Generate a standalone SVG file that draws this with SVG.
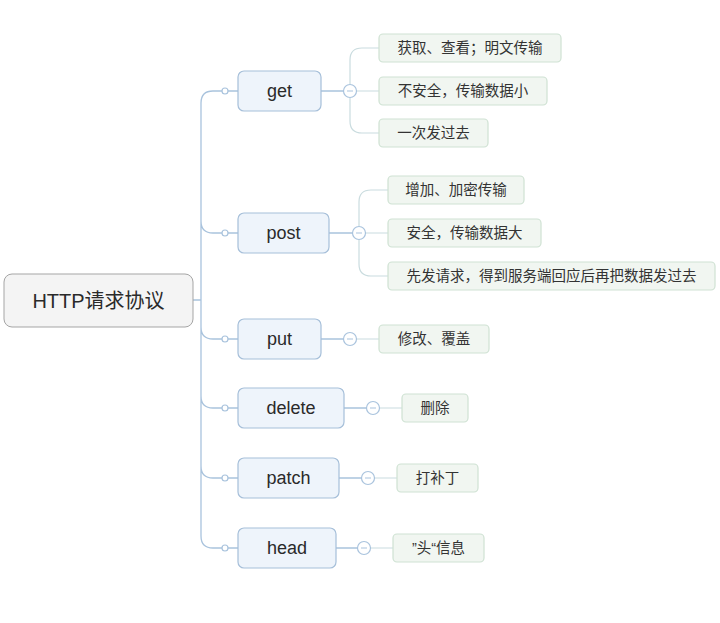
<svg xmlns="http://www.w3.org/2000/svg" width="720" height="623" viewBox="0 0 720 623">
<style>
text{font-family:"Liberation Sans","Noto Sans CJK SC",sans-serif;fill:#2a2a2a;text-anchor:middle;dominant-baseline:central}
.root rect{fill:#f4f4f4;stroke:#a5a5a5;stroke-width:1}
.root text{font-size:20px}
.main rect{fill:#eef4fb;stroke:#a6bfd9;stroke-width:1.2}
.main text{font-size:18px}
.leaf rect{fill:#f1f6f1;stroke:#cfe2d3;stroke-width:1.2}
.leaf text{font-size:14.5px;fill:#333}
.trunk{fill:none;stroke:#a9c3dd;stroke-width:1.3}
.br{fill:none;stroke:#cadcdf;stroke-width:1.2}
.dot{fill:#fff;stroke:#a9c3dd;stroke-width:1.2}
.col{fill:#fff;stroke:#a9c3dd;stroke-width:1.2}
.minus{stroke:#a9c3dd;stroke-width:1}
</style>
<rect width="720" height="623" fill="#fff"/>
<g id="connectors">
  <path class="trunk" d="M193,300 H201 M201,300 V103 Q201,91 213,91 H222 M201,300 V221 Q201,233 213,233 H222 M201,300 V327 Q201,339 213,339 H222 M201,300 V396 Q201,408 213,408 H222 M201,300 V466 Q201,478 213,478 H222 M201,300 V536 Q201,548 213,548 H222"/>
  <path class="trunk" d="M228,91 H238 M228,233 H238 M228,339 H238 M228,408 H238 M228,478 H238 M228,548 H238"/>
  <path class="trunk" d="M321,91 H343.5 M329,233 H352.5 M321,339 H343.5 M344,408 H366.5 M339,478 H361.5 M336,548 H357.5"/>
  <circle class="dot" cx="225" cy="91" r="3"/>
  <circle class="dot" cx="225" cy="233" r="3"/>
  <circle class="dot" cx="225" cy="339" r="3"/>
  <circle class="dot" cx="225" cy="408" r="3"/>
  <circle class="dot" cx="225" cy="478" r="3"/>
  <circle class="dot" cx="225" cy="548" r="3"/>
  <path class="br" d="M350,84.5 V60 Q350,48 362,48 H379 M356.5,91 H379 M350,97.5 V121 Q350,133 362,133 H379"/>
  <path class="br" d="M359,226.5 V202 Q359,190 371,190 H388 M365.5,233 H388 M359,239.5 V264 Q359,276 371,276 H388"/>
  <path class="br" d="M356.5,339 H379 M379.5,408 H402 M374.5,478 H397 M370.5,548 H393"/>
  <g class="col-g">
    <circle class="col" cx="350" cy="91" r="6.5"/><path class="minus" d="M347,91 H353"/>
    <circle class="col" cx="359" cy="233" r="6.5"/><path class="minus" d="M356,233 H362"/>
    <circle class="col" cx="350" cy="339" r="6.5"/><path class="minus" d="M347,339 H353"/>
    <circle class="col" cx="373" cy="408" r="6.5"/><path class="minus" d="M370,408 H376"/>
    <circle class="col" cx="368" cy="478" r="6.5"/><path class="minus" d="M365,478 H371"/>
    <circle class="col" cx="364" cy="548" r="6.5"/><path class="minus" d="M361,548 H367"/>
  </g>
</g>
<g id="root" class="root"><rect x="4" y="274" width="189" height="53" rx="8"/><text x="98.5" y="300.5">HTTP请求协议</text></g>
<g id="get" class="main"><rect x="238" y="71" width="83" height="40" rx="6"/><text x="279.5" y="91">get</text></g>
<g id="post" class="main"><rect x="238" y="213" width="91" height="40" rx="6"/><text x="283.5" y="233">post</text></g>
<g id="put" class="main"><rect x="238" y="319" width="83" height="40" rx="6"/><text x="279.5" y="339">put</text></g>
<g id="delete" class="main"><rect x="238" y="388" width="106" height="40" rx="6"/><text x="291" y="408">delete</text></g>
<g id="patch" class="main"><rect x="238" y="458" width="101" height="40" rx="6"/><text x="288.5" y="478">patch</text></g>
<g id="head" class="main"><rect x="238" y="528" width="98" height="40" rx="6"/><text x="287" y="548">head</text></g>
<g id="get-1" class="leaf"><rect x="379" y="34" width="182" height="28" rx="4"/><text x="470" y="48">获取、查看；明文传输</text></g>
<g id="get-2" class="leaf"><rect x="379" y="77" width="168" height="28" rx="4"/><text x="463" y="91">不安全，传输数据小</text></g>
<g id="get-3" class="leaf"><rect x="379" y="119" width="109" height="28" rx="4"/><text x="433.5" y="133">一次发过去</text></g>
<g id="post-1" class="leaf"><rect x="388" y="176" width="136" height="28" rx="4"/><text x="456" y="190">增加、加密传输</text></g>
<g id="post-2" class="leaf"><rect x="388" y="219" width="153" height="28" rx="4"/><text x="464.5" y="233">安全，传输数据大</text></g>
<g id="post-3" class="leaf"><rect x="388" y="262" width="327" height="28" rx="4"/><text x="551.5" y="276">先发请求，得到服务端回应后再把数据发过去</text></g>
<g id="put-1" class="leaf"><rect x="379" y="325" width="110" height="28" rx="4"/><text x="434" y="339">修改、覆盖</text></g>
<g id="delete-1" class="leaf"><rect x="402" y="394" width="66" height="28" rx="4"/><text x="435" y="408">删除</text></g>
<g id="patch-1" class="leaf"><rect x="397" y="464" width="81" height="28" rx="4"/><text x="437.5" y="478">打补丁</text></g>
<g id="head-1" class="leaf"><rect x="393" y="534" width="91" height="28" rx="4"/><text x="438.5" y="548">”头“信息</text></g>
</svg>
